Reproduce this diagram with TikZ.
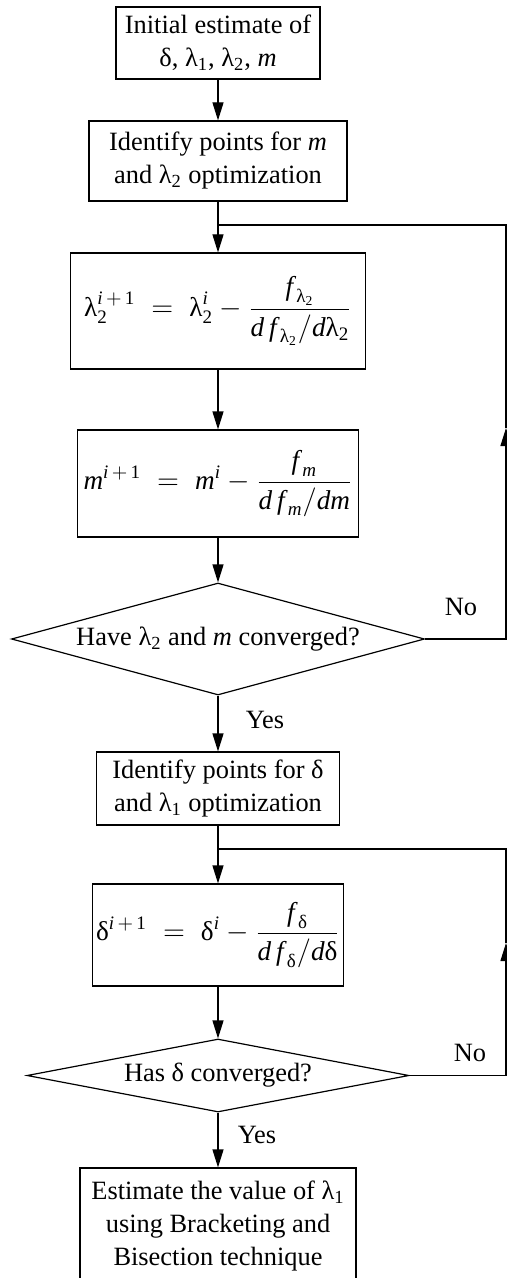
\documentclass[tikz,border=0pt]{standalone}
\usepackage{amsmath}
\usepackage{fontspec}
\setmainfont{Liberation Serif}
\usetikzlibrary{shapes.geometric, arrows.meta, positioning}

\newcommand{\gl}[1]{\text{λ}_{\text{#1}}}
\newcommand{\gd}{\text{δ}}
\newcommand{\vi}[1]{\text{\itshape #1}}
\newcommand{\boxfont}{\fontsize{13.2}{16.5}\selectfont}
\newcommand{\eqfont}{\fontsize{13.6}{17}\selectfont}

\begin{document}
\begin{tikzpicture}[
          x=0.5pt, y=-0.5pt,
          box/.style={rectangle, draw=black, line width=0.6pt,
                      inner sep=0pt, align=center, font=\boxfont},
          eqbox/.style={box, font=\eqfont},
          dia/.style={diamond, draw=black, line width=0.6pt,
                      inner sep=0pt, align=center, font=\boxfont},
          arr/.style={-{Triangle[length=9pt, width=5.5pt]}, line width=0.6pt},
          lin/.style={line width=0.6pt},
          lbl/.style={font=\boxfont},
        ]
          \useasboundingbox (0,0) rectangle (507,1278);
          % first loop: m and lambda_2
          \node[box, minimum width=102pt, minimum height=36pt] (ini) at (218,43)
                {Initial estimate of\\ δ, λ\textsubscript{1}, λ\textsubscript{2}, \textit{m}};
          \node[box, minimum width=129pt, minimum height=40pt] (p1) at (218,161)
                {Identify points for \textit{m}\\ and λ\textsubscript{2} optimization};
          \node[eqbox, minimum width=147.5pt, minimum height=58pt] (n1) at (218,311)
                {$\gl{2}^{\vi{i}\,+\,\text{1}} \;=\; \gl{2}^{\vi{i}} -
                  \dfrac{\vi{f}_{\,\gl{2}}}{\vi{d}\,\vi{f}_{\,\gl{2}}/\vi{d}\gl{2}}$};
          \node[eqbox, minimum width=140.5pt, minimum height=53.5pt] (n2) at (218,483.5)
                {$\vi{m}^{\vi{i}\,+\,\text{1}} \;=\; \vi{m}^{\vi{i}} -
                  \dfrac{\vi{f}_{\,\vi{m}}}{\vi{d}\,\vi{f}_{\,\vi{m}}/\vi{d}\vi{m}}$};
          \node[dia, aspect=3.69, minimum width=206.5pt, minimum height=56pt] (c1) at (218,639)
                {Have λ\textsubscript{2} and \textit{m} converged?};
          % second loop: delta
          \node[box, minimum width=121.5pt, minimum height=36.5pt] (p2) at (218,788.5)
                {Identify points for δ\\ and λ\textsubscript{1} optimization};
          \node[eqbox, minimum width=125.5pt, minimum height=51pt] (n3) at (218,935)
                {$\gd^{\vi{i}\,+\,\text{1}} \;=\; \gd^{\vi{i}} -
                  \dfrac{\vi{f}_{\,\gd}}{\vi{d}\,\vi{f}_{\,\gd}/\vi{d}\gd}$};
          \node[dia, aspect=5.23, minimum width=191pt, minimum height=36.5pt] (c2) at (218,1075.5)
                {Has δ converged?};
          \node[box, minimum width=138pt, minimum height=58pt] (est) at (218,1226)
                {Estimate the value of λ\textsubscript{1}\\ using Bracketing and\\ Bisection technique};
          \node[lbl] (no1) at (461,607) {No};
          \node[lbl] (yes1) at (265,720) {Yes};
          \node[lbl] (no2) at (470,1053) {No};
          \node[lbl] (yes2) at (257,1135) {Yes};
          \coordinate (j1) at (218,225);
          \coordinate (a1) at (506,428);
          \coordinate (j2) at (218,849);
          \coordinate (a2) at (506,943);
          \draw[arr] (ini)--(p1);
          \draw[arr] (p1)--(n1);
          \draw[arr] (n1)--(n2);
          \draw[arr] (n2)--(c1);
          \draw[arr] (c1.east)-|(a1);
          \draw[lin] (a1)|-(j1);
          \draw[arr] (c1.south)--(p2.north);
          \draw[arr] (p2)--(n3);
          \draw[arr] (n3)--(c2);
          \draw[arr] (c2.east)-|(a2);
          \draw[lin] (a2)|-(j2);
          \draw[arr] (c2.south)--(est.north);
        \end{tikzpicture}
\end{document}
